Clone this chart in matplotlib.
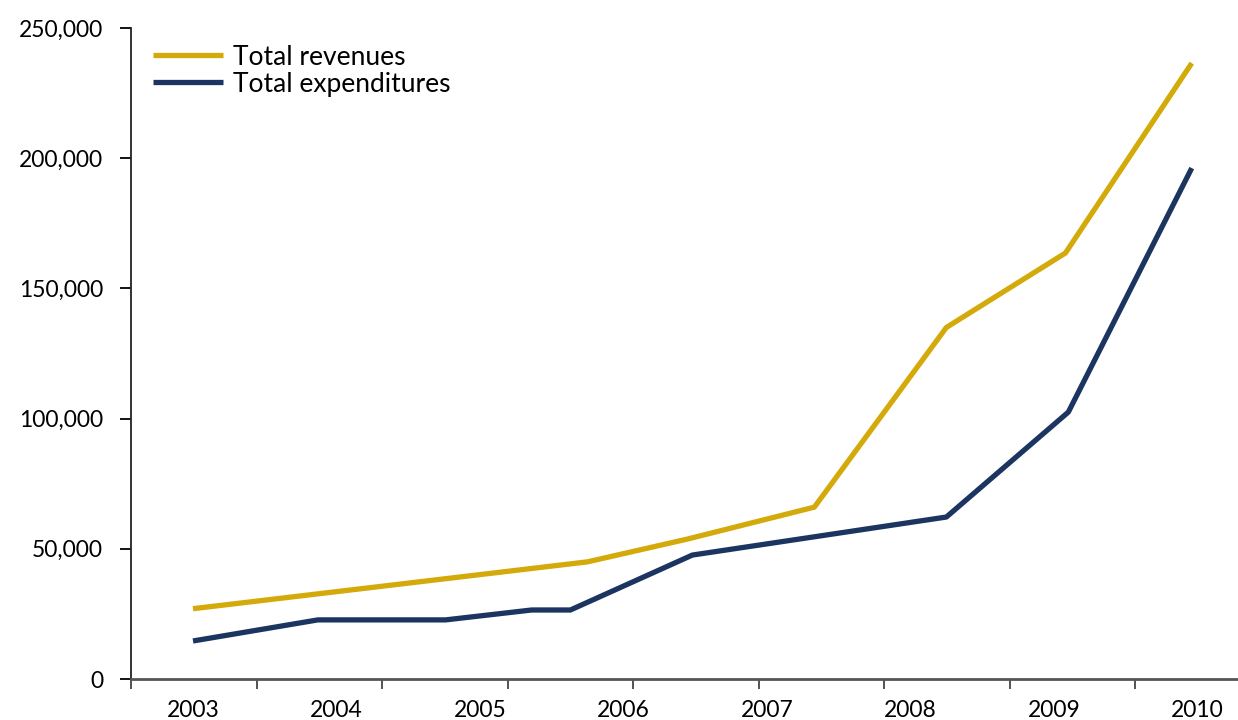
import numpy as np
import matplotlib.pyplot as plt
from matplotlib.ticker import FuncFormatter

# --------------------
# Data (x as fractional year, label at each integer year)
# --------------------
years = [2003, 2004, 2005, 2006, 2007, 2008, 2009, 2010]

rev_x = [2003.0, 2005.75, 2006.45, 2007.33, 2008.25, 2009.08, 2009.96]
rev_y = [27000, 45000, 53800, 66000, 135000, 163600, 236500]

exp_x = [2003.0, 2003.87, 2004.76, 2005.36, 2005.63, 2006.48, 2008.25, 2009.10, 2009.96]
exp_y = [14600, 22700, 22700, 26500, 26500, 47600, 62200, 102500, 196200]

yticks = [0, 50000, 100000, 150000, 200000, 250000]

gold = "#D4AA0A"
navy = "#1B3560"

plt.rcParams['font.family'] = ['Lato', 'DejaVu Sans']

fig = plt.figure(figsize=(12.38, 7.2), dpi=100)
ax = fig.add_axes([131/1238, 1 - 679/720, 1 - 131/1238, (679 - 28)/720])

ax.plot(rev_x, rev_y, color=gold, lw=3.8, label="Total revenues", solid_capstyle='butt')
ax.plot(exp_x, exp_y, color=navy, lw=3.8, label="Total expenditures", solid_capstyle='butt')

# axis range: pixel layout -> year units (143.5 px per year, 2003 at px 193)
px_per_year = 143.5
ax.set_xlim(2003 + (131 - 193)/px_per_year, 2003 + (1238 - 193)/px_per_year)
ax.set_ylim(0, 250000)

# year labels with no tick marks, separate tick marks between
ax.set_xticks(years)
ax.set_xticklabels([str(y) for y in years])
tick_marks = [2003 + (131 + 125.5*k - 193)/px_per_year for k in range(9)]
ax.set_xticks(tick_marks, minor=True)
ax.tick_params(axis='x', which='major', length=0, pad=15, labelsize=16.5)
ax.tick_params(axis='x', which='minor', length=7, width=1.3, color='#444444', direction='out')

ax.set_yticks(yticks)
ax.yaxis.set_major_formatter(FuncFormatter(lambda v, p: f"{int(v):,}"))
ax.tick_params(axis='y', length=8, width=1.3, pad=12, labelsize=16.5)

for s in ['top', 'right']:
    ax.spines[s].set_visible(False)
ax.spines['left'].set_linewidth(1.3)
ax.spines['left'].set_color('#222222')
ax.spines['bottom'].set_linewidth(2.0)
ax.spines['bottom'].set_color('#555555')

ax.legend(loc='upper left', bbox_to_anchor=(-0.0015, 1.011), frameon=False,
          fontsize=19, handlelength=2.65, handletextpad=0.38, labelspacing=0.08)

plt.savefig("out.png", dpi=100)
